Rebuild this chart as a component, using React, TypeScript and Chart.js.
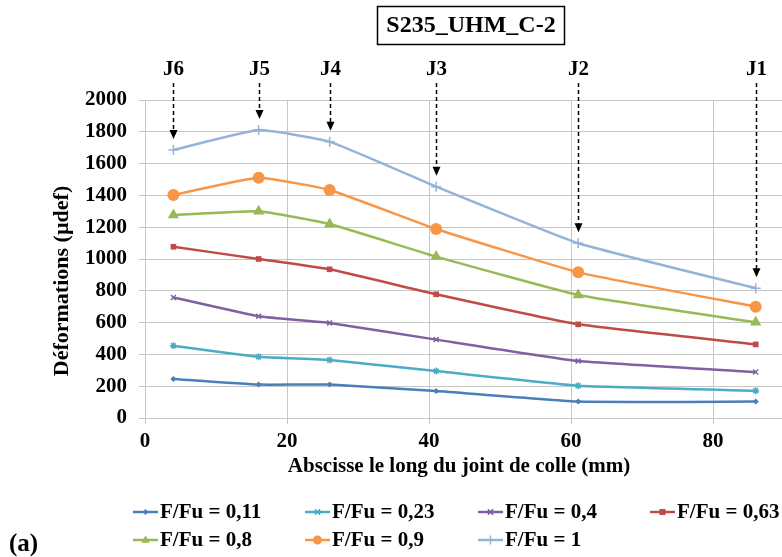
import React, { useEffect, useRef } from 'react';
import { Chart, registerables } from 'chart.js';

Chart.register(...registerables);

// ---- data ----
const positionsMm = [4, 16, 26, 41, 61, 86];
const jointLabels = ['J6', 'J5', 'J4', 'J3', 'J2', 'J1'];
const seriesLabels = ['F/Fu = 0,11', 'F/Fu = 0,23', 'F/Fu = 0,4', 'F/Fu = 0,63', 'F/Fu = 0,8', 'F/Fu = 0,9', 'F/Fu = 1'];
const s011 = [245, 210, 210, 170, 103, 103];
const s023 = [455, 385, 365, 295, 203, 172];
const s040 = [758, 640, 598, 493, 358, 289];
const s063 = [1077, 1000, 935, 778, 589, 463];
const s080 = [1277, 1300, 1220, 1015, 774, 602];
const s090 = [1403, 1511, 1434, 1189, 916, 700];
const s100 = [1686, 1811, 1738, 1455, 1099, 816];
const seriesValues = [s011, s023, s040, s063, s080, s090, s100];
const xTickValues = [0, 20, 40, 60, 80];
const yTickValues = [0, 200, 400, 600, 800, 1000, 1200, 1400, 1600, 1800, 2000];
const chartTitle = 'S235_UHM_C-2';
const xTitle = 'Abscisse le long du joint de colle (mm)';
const yTitle = 'Déformations (µdef)';
const panelLabel = '(a)';

// ---- styles ----
const colors = ['#4A7EBB', '#4BACC6', '#7F60A0', '#BE4B48', '#98B954', '#F79646', '#95B3D7'];
const pointStyles = ['rectRot', 'star', 'crossRot', 'rect', 'triangle', 'circle', 'cross'];
const pointRadii = [3, 3.5, 3.5, 4, 6.5, 6, 5];
const FONT = "'Liberation Serif', 'Times New Roman', serif";
const GRID = '#C6C6C6';

function drawMarker(ctx: CanvasRenderingContext2D, style: string, x: number, y: number, r: number, color: string) {
  ctx.save();
  ctx.fillStyle = color;
  ctx.strokeStyle = color;
  ctx.lineWidth = 1.5;
  ctx.beginPath();
  if (style === 'circle') {
    ctx.arc(x, y, r, 0, Math.PI * 2);
    ctx.fill();
  } else if (style === 'triangle') {
    ctx.moveTo(x, y - r);
    ctx.lineTo(x + r * 0.95, y + r * 0.6);
    ctx.lineTo(x - r * 0.95, y + r * 0.6);
    ctx.closePath();
    ctx.fill();
  } else if (style === 'rect') {
    ctx.rect(x - r * 0.75, y - r * 0.75, r * 1.5, r * 1.5);
    ctx.fill();
  } else if (style === 'rectRot') {
    ctx.moveTo(x, y - r);
    ctx.lineTo(x + r, y);
    ctx.lineTo(x, y + r);
    ctx.lineTo(x - r, y);
    ctx.closePath();
    ctx.fill();
  } else if (style === 'cross') {
    ctx.moveTo(x - r, y); ctx.lineTo(x + r, y);
    ctx.moveTo(x, y - r); ctx.lineTo(x, y + r);
    ctx.stroke();
  } else if (style === 'crossRot') {
    const d = r * 0.75;
    ctx.moveTo(x - d, y - d); ctx.lineTo(x + d, y + d);
    ctx.moveTo(x - d, y + d); ctx.lineTo(x + d, y - d);
    ctx.stroke();
  } else if (style === 'star') {
    const d = r * 0.75;
    ctx.moveTo(x - d, y - d); ctx.lineTo(x + d, y + d);
    ctx.moveTo(x - d, y + d); ctx.lineTo(x + d, y - d);
    ctx.moveTo(x - r, y); ctx.lineTo(x + r, y);
    ctx.stroke();
  }
  ctx.restore();
}

const overlayPlugin = {
  id: 'overlay',
  afterDraw(chart: any) {
    const ctx: CanvasRenderingContext2D = chart.ctx;
    const xs = chart.scales.x;
    const ys = chart.scales.y;
    ctx.save();

    // Title box
    ctx.font = `bold 24px ${FONT}`;
    ctx.textAlign = 'center';
    ctx.textBaseline = 'middle';
    ctx.fillStyle = '#000';
    ctx.strokeStyle = '#000';
    ctx.lineWidth = 1.5;
    ctx.strokeRect(377.5, 6.5, 187, 38);
    ctx.fillText(chartTitle, 471, 26);

    // Joint labels and dashed arrows
    ctx.font = `bold 21px ${FONT}`;
    positionsMm.forEach((pos, i) => {
      const px = Math.round(xs.getPixelForValue(pos)) + 0.5;
      const top = Math.max(...seriesValues.map((s) => s[i]));
      const tipY = ys.getPixelForValue(top) - 11;
      ctx.fillStyle = '#000';
      ctx.fillText(jointLabels[i], px, 70);
      ctx.save();
      ctx.strokeStyle = '#000';
      ctx.lineWidth = 1.5;
      ctx.setLineDash([4, 3]);
      ctx.beginPath();
      ctx.moveTo(px, 83);
      ctx.lineTo(px, tipY - 8);
      ctx.stroke();
      ctx.restore();
      ctx.beginPath();
      ctx.moveTo(px - 4, tipY - 9);
      ctx.lineTo(px + 4, tipY - 9);
      ctx.lineTo(px, tipY);
      ctx.closePath();
      ctx.fill();
    });

    // Axis titles
    ctx.font = `bold 22px ${FONT}`;
    ctx.save();
    ctx.translate(62, 281);
    ctx.rotate(-Math.PI / 2);
    ctx.fillText(yTitle, 0, 0);
    ctx.restore();
    ctx.font = `bold 21px ${FONT}`;
    ctx.fillText(xTitle, 459, 467);

    // Legend
    const colX = [133, 305, 478, 650];
    const rowY = [512, 540];
    ctx.textAlign = 'left';
    seriesLabels.forEach((lab, i) => {
      const cx = colX[i % 4];
      const cy = rowY[Math.floor(i / 4)];
      ctx.save();
      ctx.strokeStyle = colors[i];
      ctx.lineWidth = 2.5;
      ctx.beginPath();
      ctx.moveTo(cx, cy);
      ctx.lineTo(cx + 25, cy);
      ctx.stroke();
      ctx.restore();
      drawMarker(ctx, pointStyles[i], cx + 12.5, cy, Math.min(pointRadii[i], 4.5), colors[i]);
      ctx.fillStyle = '#000';
      ctx.fillText(lab, cx + 27, cy + 1);
    });

    // Panel label
    ctx.font = `bold 25px ${FONT}`;
    ctx.fillText(panelLabel, 9, 545);

    ctx.restore();
  },
};

export default function App() {
  const canvasRef = useRef<HTMLCanvasElement | null>(null);

  useEffect(() => {
    const canvas = canvasRef.current;
    if (!canvas) return;
    const datasets = seriesValues.map((vals, i) => ({
      label: seriesLabels[i],
      data: vals.map((v, j) => ({ x: positionsMm[j], y: v })),
      borderColor: colors[i],
      backgroundColor: colors[i],
      borderWidth: 2.5,
      pointStyle: pointStyles[i] as any,
      pointRadius: pointRadii[i],
      pointBorderWidth: ['cross', 'crossRot', 'star'].includes(pointStyles[i]) ? 1.5 : 0,
      pointBorderColor: colors[i],
      pointBackgroundColor: colors[i],
      tension: 0.12,
      fill: false,
    }));
    const chart = new Chart(canvas, {
      type: 'line',
      data: { datasets },
      options: {
        animation: false,
        responsive: false,
        layout: { autoPadding: false, padding: { left: 0, right: 0, top: 100, bottom: 109 } },
        plugins: { legend: { display: false }, tooltip: { enabled: false }, title: { display: false } },
        scales: {
          x: {
            type: 'linear',
            min: 0,
            max: 89.7,
            afterBuildTicks: (scale: any) => {
              scale.ticks = xTickValues.map((v) => ({ value: v }));
            },
            afterFit: (scale: any) => {
              scale.height = 30;
              scale.paddingLeft = 0;
              scale.paddingRight = 0;
            },
            grid: { color: GRID, lineWidth: 1, tickLength: 6, tickColor: GRID },
            border: { color: GRID, width: 1 },
            ticks: {
              color: '#000',
              font: { family: FONT, size: 21, weight: 'bold' },
              padding: 5,
              maxRotation: 0,
              autoSkip: false,
              callback: (v: any) => String(v),
            },
          },
          y: {
            type: 'linear',
            min: 0,
            max: 2000,
            afterBuildTicks: (scale: any) => {
              scale.ticks = yTickValues.map((v) => ({ value: v }));
            },
            afterFit: (scale: any) => {
              scale.width = 145;
              scale.paddingTop = 0;
              scale.paddingBottom = 0;
            },
            grid: { color: GRID, lineWidth: 1, tickLength: 6, tickColor: GRID },
            border: { color: GRID, width: 1 },
            ticks: {
              color: '#000',
              font: { family: FONT, size: 21, weight: 'bold' },
              padding: 12,
              autoSkip: false,
              callback: (v: any) => String(v),
            },
          },
        },
      },
      plugins: [overlayPlugin],
    });
    return () => chart.destroy();
  }, []);

  return (
    <div style={{ position: 'fixed', left: 0, top: 0, width: 782, height: 557, background: '#fff' }}>
      <canvas ref={canvasRef} width={782} height={557} style={{ width: 782, height: 557, display: 'block' }} />
    </div>
  );
}
